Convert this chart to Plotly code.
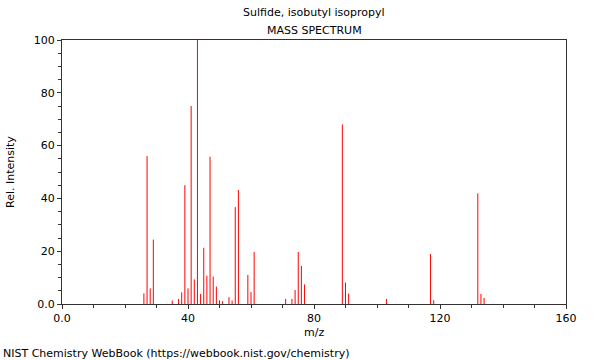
import plotly.graph_objects as go

mz = [26, 27, 28, 29, 35, 37, 38, 39, 40, 41, 42, 43, 44, 45, 46, 47, 48, 49, 50, 51,
      53, 54, 55, 56, 59, 60, 61, 71, 73, 74, 75, 76, 77, 89, 90, 91, 103, 117, 118,
      132, 133, 134]
intensity = [4.0, 56.0, 5.9, 24.4, 1.3, 1.9, 4.4, 45.0, 5.9, 75.0, 9.3, 100.0, 3.8, 21.3,
             10.7, 55.8, 10.4, 6.6, 1.4, 1.1, 2.6, 1.3, 36.7, 43.2, 11.0, 4.5, 19.7, 1.9,
             1.9, 5.3, 19.7, 14.4, 7.4, 68.0, 8.1, 3.9, 1.9, 18.9, 1.4, 41.9, 3.8, 2.3]

x_ticks = [0, 40, 80, 120, 160]
x_labels = ["0.0", "40", "80", "120", "160"]
y_ticks = [0, 20, 40, 60, 80, 100]
y_labels = ["0.0", "20", "40", "60", "80", "100"]

xs, ys = [], []
for m, v in zip(mz, intensity):
    xs += [m, m, None]
    ys += [0, v, None]

fig = go.Figure()
fig.add_trace(go.Scatter(x=xs, y=ys, mode="lines",
                         line=dict(color="#ff0000", width=1),
                         hoverinfo="skip", showlegend=False))

axis_common = dict(showgrid=False, zeroline=False, showline=True, linecolor="#333333",
                   linewidth=1, mirror=True, ticks="outside", ticklen=4, automargin=False,
                   tickcolor="#333333", tickfont=dict(family="DejaVu Sans", size=11, color="#000"))

fig.update_xaxes(range=[0, 160], tickmode="array", tickvals=x_ticks, ticktext=x_labels,
                 minor=dict(dtick=10, ticks="outside", ticklen=3, tickcolor="#333333"),
                 **axis_common)
fig.update_yaxes(range=[0, 100], tickmode="array", tickvals=y_ticks, ticktext=y_labels,
                 minor=dict(dtick=5, ticks="outside", ticklen=3, tickcolor="#333333"),
                 **axis_common)

PW, PH = 504, 264  # plot area size in px

fig.update_layout(
    width=600, height=360,
    margin=dict(l=62, r=34, t=40, b=56),
    paper_bgcolor="white", plot_bgcolor="white",
    font=dict(family="DejaVu Sans", size=11, color="#000"),
    annotations=[
        dict(text="Sulfide, isobutyl isopropyl", x=0.5, y=1 + (40 - 13) / PH,
             yanchor="middle", xref="paper", yref="paper", showarrow=False),
        dict(text="MASS SPECTRUM", x=0.5, y=1 + (40 - 30) / PH, yanchor="middle",
             xref="paper", yref="paper", showarrow=False),
        dict(text="m/z", x=(314 - 62) / PW, y=-(332 - 304) / PH, yanchor="middle",
             xref="paper", yref="paper", showarrow=False),
        dict(text="Rel. Intensity", x=-(62 - 10) / PW, xanchor="center", y=0.5,
             yanchor="middle", textangle=-90, xref="paper", yref="paper", showarrow=False),
        dict(text="NIST Chemistry WebBook (https://webbook.nist.gov/chemistry)",
             x=-(62 - 1) / PW, xanchor="left", y=-(353 - 304) / PH, yanchor="middle",
             xref="paper", yref="paper", showarrow=False),
    ],
)

fig.write_html("out.html", config={"displayModeBar": False},
               post_script="document.body.style.margin='0';document.body.style.overflow='hidden';")
